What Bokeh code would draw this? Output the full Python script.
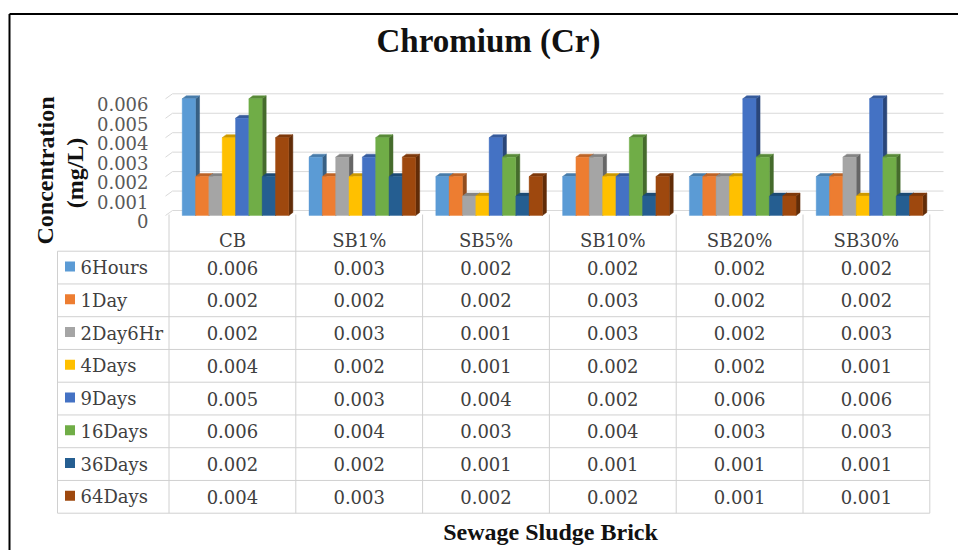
from bokeh.plotting import figure
from bokeh.models import Range1d, ColumnDataSource
from bokeh.core.properties import value
from bokeh.embed import file_html
from bokeh.resources import INLINE

# ---------------- data ----------------
categories = ["CB", "SB1%", "SB5%", "SB10%", "SB20%", "SB30%"]
series_names = ["6Hours", "1Day", "2Day6Hr", "4Days", "9Days", "16Days", "36Days", "64Days"]
hours_6 = [0.006, 0.003, 0.002, 0.002, 0.002, 0.002]
day_1 = [0.002, 0.002, 0.002, 0.003, 0.002, 0.002]
day2_hr6 = [0.002, 0.003, 0.001, 0.003, 0.002, 0.003]
days_4 = [0.004, 0.002, 0.001, 0.002, 0.002, 0.001]
days_9 = [0.005, 0.003, 0.004, 0.002, 0.006, 0.006]
days_16 = [0.006, 0.004, 0.003, 0.004, 0.003, 0.003]
days_36 = [0.002, 0.002, 0.001, 0.001, 0.001, 0.001]
days_64 = [0.004, 0.003, 0.002, 0.002, 0.001, 0.001]
y_ticks = [0, 0.001, 0.002, 0.003, 0.004, 0.005, 0.006]
y_tick_labels = ["0", "0.001", "0.002", "0.003", "0.004", "0.005", "0.006"]
title_text = "Chromium (Cr)"
y_title_lines = ["Concentration", "(mg/L)"]
x_title_text = "Sewage Sludge Brick"

series_values = [hours_6, day_1, day2_hr6, days_4, days_9, days_16, days_36, days_64]
colors = ["#5B9BD5", "#ED7D31", "#A5A5A5", "#FFC000", "#4472C4", "#70AD47", "#255E91", "#9E480E"]

# ---------------- layout (pixels) ----------------
W, H = 958, 550
COL0 = 168.5          # left edge of first category column
COL_W = 126.8         # category column width
BASE_Y = 215.0        # pixel (from top) of value 0 on the bar front
PX_PER_UNIT = 116.7 / 0.006
GROUP_START = 13.2 / COL_W
BAR_W = 13.33 / COL_W
DX = 4.0 / COL_W
DY = 3.0 / PX_PER_UNIT
GRID_DY = 5.0 / PX_PER_UNIT
ROW0 = 250.7
ROW_H = 32.75
N_ROWS = len(series_names)
TABLE_L = 57.0
TABLE_R = COL0 + len(categories) * COL_W

SERIF = value("DejaVu Serif")
BOLD_SERIF = value("Liberation Serif")
TXT = "#404040"


def shade(hex_color, f):
    h = hex_color.lstrip("#")
    r, g, b = (int(h[k:k + 2], 16) for k in (0, 2, 4))
    return "#%02x%02x%02x" % (int(r * f), int(g * f), int(b * f))


p = figure(width=W, height=H,
           x_range=Range1d(-COL0 / COL_W, (W - COL0) / COL_W),
           y_range=Range1d(-(H - BASE_Y) / PX_PER_UNIT, BASE_Y / PX_PER_UNIT),
           output_backend="svg", toolbar_location=None,
           x_axis_type=None, y_axis_type=None, min_border=0,
           outline_line_color=None, background_fill_color="white")
p.extra_x_ranges = {"px": Range1d(0, W)}
p.extra_y_ranges = {"px": Range1d(H, 0)}

# outer frame (left and top edges visible)
p.segment(x0=[9, 9], y0=[13.5, 13.5], x1=[9, W], y1=[H, 13.5],
          line_color="black", line_width=2, x_range_name="px", y_range_name="px")

# back-wall grid lines
grid_y = [v + GRID_DY for v in y_ticks]
p.segment(x0=[172] * len(y_ticks), x1=[943] * len(y_ticks), y0=grid_y, y1=grid_y,
          line_color="#D9D9D9", line_width=1, x_range_name="px")
p.segment(x0=[165] * len(y_ticks), x1=[172] * len(y_ticks), y0=list(y_ticks), y1=grid_y,
          line_color="#D9D9D9", line_width=1, x_range_name="px")

# bars (3-D look: side and top faces, then front faces)
fl, fr, ft, fc = [], [], [], []
sx, sy, sc = [], [], []
tx, ty, tc = [], [], []
for i in range(len(categories)):
    for j, vals in enumerate(series_values):
        v = vals[i]
        l = i + GROUP_START + j * BAR_W
        r = l + BAR_W
        fl.append(l); fr.append(r); ft.append(v); fc.append(colors[j])
        sx.append([r, r + DX, r + DX, r]); sy.append([0, DY, v + DY, v])
        sc.append(shade(colors[j], 0.62))
        tx.append([l, l + DX, r + DX, r]); ty.append([v, v + DY, v + DY, v])
        tc.append(shade(colors[j], 0.8))

p.patches(xs=sx, ys=sy, fill_color=sc, line_color=sc, line_width=0.5)
p.patches(xs=tx, ys=ty, fill_color=tc, line_color=tc, line_width=0.5)
p.quad(source=ColumnDataSource(dict(left=fl, right=fr, top=ft, bottom=[0] * len(ft), color=fc)),
       left="left", right="right", top="top", bottom="bottom",
       fill_color="color", line_color="color", line_width=0.4)

# y tick labels
p.text(x=[148] * len(y_ticks), y=list(y_ticks), text=y_tick_labels, x_range_name="px",
       y_offset=5.5, text_align="right", text_baseline="middle",
       text_font=SERIF, text_font_size="18px", text_color="#595959")

# data table lines
row_lines = [ROW0 + k * ROW_H for k in range(N_ROWS + 1)]
p.segment(x0=[TABLE_L] * len(row_lines), x1=[TABLE_R] * len(row_lines),
          y0=row_lines, y1=row_lines, line_color="#D0D0D0", line_width=1,
          x_range_name="px", y_range_name="px")
col_lines = list(range(len(categories) + 1))
p.segment(x0=col_lines, x1=col_lines, y0=[214] * len(col_lines),
          y1=[row_lines[-1]] * len(col_lines), line_color="#D0D0D0", line_width=1,
          y_range_name="px")
p.segment(x0=[TABLE_L], x1=[TABLE_L], y0=[row_lines[0]], y1=[row_lines[-1]],
          line_color="#D0D0D0", line_width=1, x_range_name="px", y_range_name="px")

# category header labels
p.text(x=[i + 0.5 for i in range(len(categories))], y=[240] * len(categories),
       text=categories, y_range_name="px", text_align="center", text_baseline="middle",
       text_font=SERIF, text_font_size="18px", text_color=TXT)

# table values
vx, vy, vt = [], [], []
for k, vals in enumerate(series_values):
    for i, v in enumerate(vals):
        vx.append(i + 0.5)
        vy.append(ROW0 + (k + 0.5) * ROW_H)
        vt.append("%.3f" % v)
p.text(x=vx, y=vy, text=vt, y_range_name="px", text_align="center", text_baseline="middle",
       text_font=SERIF, text_font_size="18px", text_color=TXT)

# legend keys + names
row_c = [ROW0 + (k + 0.5) * ROW_H for k in range(N_ROWS)]
p.rect(x=[69.5] * N_ROWS, y=[c - 1 for c in row_c], width=10, height=10,
       fill_color=colors, line_color=None, x_range_name="px", y_range_name="px")
p.text(x=[80] * N_ROWS, y=row_c, text=series_names, x_range_name="px", y_range_name="px",
       text_align="left", text_baseline="middle",
       text_font=SERIF, text_font_size="18px", text_color=TXT)

# titles
p.text(x=[488], y=[40.5], text=[title_text], x_range_name="px", y_range_name="px",
       text_align="center", text_baseline="middle", text_font=BOLD_SERIF,
       text_font_size="33px", text_font_style="bold", text_color="#111111")
p.text(x=[550], y=[531.5], text=[x_title_text], x_range_name="px", y_range_name="px",
       text_align="center", text_baseline="middle", text_font=BOLD_SERIF,
       text_font_size="24px", text_font_style="bold", text_color="#111111")
p.text(x=[45, 74], y=[170, 172.5], text=y_title_lines, x_range_name="px", y_range_name="px",
       angle=1.5707963, text_align="center", text_baseline="middle", text_font=BOLD_SERIF,
       text_font_size="24px", text_font_style="bold", text_color="#111111")

open("out.html", "w").write(file_html(p, INLINE))
